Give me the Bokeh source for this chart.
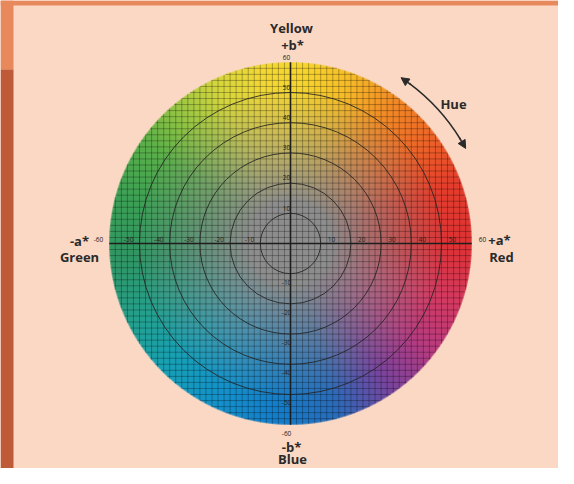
import numpy as np
from bokeh.plotting import figure
from bokeh.models import Range1d, Arrow, NormalHead
from bokeh.core.properties import value
from bokeh.embed import file_html
from bokeh.resources import INLINE

# ---------------- data ----------------
hue_angles = [0, 20, 40, 55, 70, 85, 100, 115, 130, 145, 165, 185, 205, 225, 245, 265, 285, 305, 322, 340, 360]
hue_colors = ["#DE3234", "#E43E2D", "#EE6C28", "#F28E26", "#F6BC28", "#F7D52E", "#F2D836",
              "#D6D63E", "#98C644", "#5CB04A", "#3CA055", "#309664", "#26A08C", "#18A0B6",
              "#1492CA", "#147ECA", "#2A6CBA", "#7A449E", "#B63C82", "#D43A62", "#DE3234"]
center_gray = "#8D8D8D"
chroma_max = 60
ring_radii = [10, 20, 30, 40, 50]
grid_step = 2
tick_values = [-60, -50, -40, -30, -20, -10, 10, 20, 30, 40, 50, 60]
tick_labels = ["-60", "-50", "-40", "-30", "-20", "-10", "10", "20", "30", "40", "50", "60"]
axis_names = ["Yellow", "+b*", "-a*", "Green", "+a*", "Red", "-b*", "Blue"]
hue_label = "Hue"
hue_arc_deg = [28.5, 56.3]
hue_arc_radius = 66

# ---------------- layout ----------------
W, H = 558, 468
SCALE = 3.02          # px per unit
CX, CY = 290, 243     # centre in figure px
BG = "#FAD8C4"
INK = "#2A2A2A"

def ux(px):
    return (px - CX) / SCALE

def uy(py):
    return (CY - py) / SCALE

p = figure(width=W, height=H, x_range=Range1d(ux(0), ux(W)), y_range=Range1d(uy(H), uy(0)),
           output_backend="svg", toolbar_location=None, min_border=0,
           x_axis_type=None, y_axis_type=None,
           background_fill_color=BG, border_fill_color=BG, outline_line_color=None)

# frame strips (top and left)
p.quad(left=[ux(0), ux(0), ux(0)], right=[ux(W), ux(13), ux(13)],
       top=[uy(0), uy(0), uy(69)], bottom=[uy(5), uy(69), uy(H)],
       fill_color=["#E8895C", "#E8895C", "#BE5A37"], line_color=None)

# ---------------- colour field ----------------
def hex2rgb(h):
    return [int(h[i:i + 2], 16) for i in (1, 3, 5)]

anch = np.array([hex2rgb(c) for c in hue_colors], float)
gray = np.array(hex2rgb(center_gray), float)
N = 362
coords = np.linspace(-chroma_max, chroma_max, N, endpoint=False) + chroma_max / N
A, B = np.meshgrid(coords, coords)
R = np.hypot(A, B)
TH = np.degrees(np.arctan2(B, A)) % 360
sat = np.clip((R - 14) / 38.0, 0, 1) ** 0.9
img = np.zeros((N, N), dtype=np.uint32)
view = img.view(dtype=np.uint8).reshape((N, N, 4))
for k in range(3):
    edge = np.interp(TH, hue_angles, anch[:, k])
    view[..., k] = np.clip(gray[k] + (edge - gray[k]) * sat, 0, 255).astype(np.uint8)
alpha = np.clip((chroma_max - R) * (N / (2.0 * chroma_max)) + 0.5, 0, 1)
view[..., 3] = (alpha * 255).astype(np.uint8)
p.image_rgba(image=[img], x=-chroma_max, y=-chroma_max, dw=2 * chroma_max, dh=2 * chroma_max)

# ---------------- grid ----------------
g = np.arange(-chroma_max + grid_step, chroma_max, grid_step).astype(float)
g = g[g != 0]
half = np.sqrt(chroma_max ** 2 - g ** 2)
p.segment(x0=g, y0=-half, x1=g, y1=half, line_color="black", line_alpha=0.38, line_width=0.75)
p.segment(x0=-half, y0=g, x1=half, y1=g, line_color="black", line_alpha=0.38, line_width=0.75)

p.circle(x=[0] * len(ring_radii), y=[0] * len(ring_radii), radius=ring_radii,
         fill_color=None, line_color="#222222", line_alpha=0.85, line_width=1.0)

p.segment(x0=[-chroma_max, 0], y0=[0, -chroma_max], x1=[chroma_max, 0], y1=[0, chroma_max],
          line_color="#1E1E1E", line_width=1.6)

# ---------------- tick labels ----------------
tv = np.array(tick_values, float)
hx = tv + np.sign(tv) * 3.6
hy = np.full_like(tv, 1.4)
vx = np.full_like(tv, -1.3)
vy = np.where(tv > 0, tv + 1.7, tv - 2.8)
for xs, ys in ((hx, hy), (vx, vy)):
    p.text(x=xs, y=ys, text=tick_labels, text_font=value("Open Sans"), text_font_size="6.5px",
           text_color="#222222", text_align="center", text_baseline="middle")

# ---------------- axis names ----------------
name_x = [ux(291), ux(292), ux(79), ux(79), ux(499), ux(501), ux(291), ux(292)]
name_y = [uy(27), uy(44), uy(240), uy(256), uy(239), uy(256), uy(446), uy(458)]
p.text(x=name_x, y=name_y, text=axis_names, text_font=value("Open Sans"), text_font_size="13px",
       text_font_style="bold", text_color=INK, text_align="center", text_baseline="middle")

# ---------------- hue arrow ----------------
a0, a1 = np.radians(hue_arc_deg[0]), np.radians(hue_arc_deg[1])
p.arc(x=[0], y=[0], radius=hue_arc_radius, start_angle=a0 + 0.05, end_angle=a1 - 0.05,
      line_color=INK, line_width=1.5)
for tip, back in ((a1, a1 - 0.06), (a0, a0 + 0.06)):
    p.add_layout(Arrow(end=NormalHead(size=8, fill_color=INK, line_color=INK, line_width=1),
                       x_start=hue_arc_radius * np.cos(back), y_start=hue_arc_radius * np.sin(back),
                       x_end=hue_arc_radius * np.cos(tip), y_end=hue_arc_radius * np.sin(tip),
                       line_color=INK, line_width=1.5))
p.text(x=[ux(453)], y=[uy(103)], text=[hue_label], text_font=value("Open Sans"), text_font_size="13px",
       text_font_style="bold", text_color=INK, text_align="center", text_baseline="middle")

open("out.html", "w").write(file_html(p, INLINE))
